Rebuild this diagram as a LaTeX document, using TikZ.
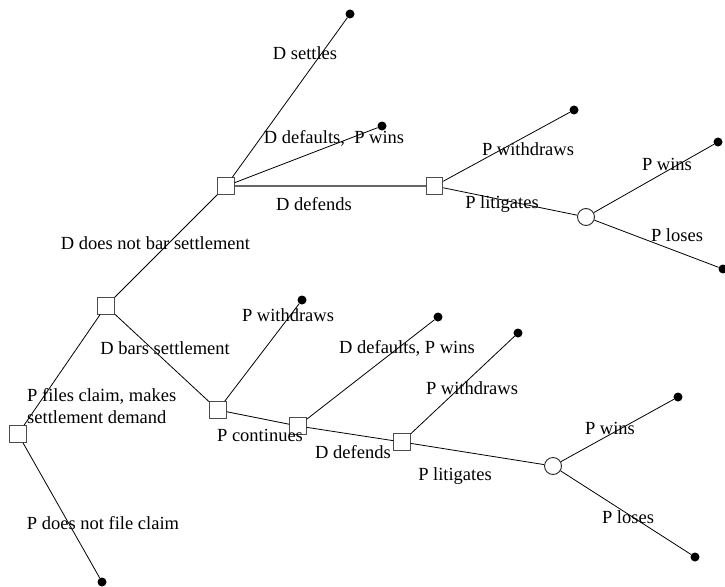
\documentclass[tikz,border=0pt]{standalone}
\usepackage{fontspec}
\setmainfont{Liberation Serif}
\begin{document}
\begin{tikzpicture}[x=1pt,y=-1pt,
 dec/.style={draw=black!70, fill=white, minimum size=16.5pt, inner sep=0pt, line width=0.9pt},
 chance/.style={circle, draw=black!85, fill=white, minimum size=17pt, inner sep=0pt, line width=0.9pt},
 term/.style={circle, fill=black, minimum size=9pt, inner sep=0pt},
 lbl/.style={font=\fontsize{18.5}{22}\selectfont, inner sep=0pt},
 edge/.style={line width=0.8pt},
 gedge/.style={line width=1.6pt, draw=black!60}]
\useasboundingbox (0,0) rectangle (725,586);
% decision and chance nodes
\node[dec] (root) at (18,434) {};
\node[dec] (n1) at (106,306) {};
\node[dec] (n2) at (226,186) {};
\node[dec] (n3) at (434.5,186) {};
\node[chance] (c1) at (586,217) {};
\node[dec] (n4) at (218,410) {};
\node[dec] (n5) at (298,426) {};
\node[dec] (n6) at (402,442) {};
\node[chance] (c2) at (553,466) {};
% terminals
\node[term] (t1) at (102,582) {};
\node[term] (t2) at (350,14) {};
\node[term] (t3) at (382,126) {};
\node[term] (t4) at (574,110) {};
\node[term] (t5) at (718,142) {};
\node[term] (t6) at (723,269) {};
\node[term] (t7) at (302,300) {};
\node[term] (t8) at (438,317) {};
\node[term] (t9) at (518,333) {};
\node[term] (t10) at (678,397) {};
\node[term] (t11) at (695,557) {};
% edges
\draw[edge] (root) -- (n1);
\draw[edge] (root) -- (t1);
\draw[edge] (n1) -- (n2);
\draw[edge] (n1) -- (n4);
\draw[edge] (n2) -- (t2);
\draw[edge] (n2) -- (t3);
\draw[gedge] (n2) -- (n3);
\draw[edge] (n3) -- (t4);
\draw[edge] (n3) -- (c1);
\draw[edge] (c1) -- (t5);
\draw[edge] (c1) -- (t6);
\draw[edge] (n4) -- (t7);
\draw[edge] (n4) -- (n5);
\draw[edge] (n5) -- (t8);
\draw[edge] (n5) -- (n6);
\draw[edge] (n6) -- (t9);
\draw[edge] (n6) -- (c2);
\draw[edge] (c2) -- (t10);
\draw[edge] (c2) -- (t11);
% labels
\node[lbl] (l1) at (305,53) {D settles};
\node[lbl] (l2) at (334,138) {D defaults,\ \ P wins};
\node[lbl] (l3) at (314,204) {D defends};
\node[lbl] (l4) at (155.5,243) {D does not bar settlement};
\node[lbl] (l5) at (528,149) {P withdraws};
\node[lbl] (l6) at (502,204) {P litigates};
\node[lbl] (l7) at (667,164) {P wins};
\node[lbl] (l8) at (677,235) {P loses};
\node[lbl] (l9) at (165,348) {D bars settlement};
\node[lbl, align=left, anchor=west] (l10) at (27,406) {P files claim, makes\\settlement demand};
\node[lbl] (l11) at (103,523) {P does not file claim};
\node[lbl] (l12) at (288,315) {P withdraws};
\node[lbl] (l13) at (260,435) {P continues};
\node[lbl] (l14) at (407,348) {D defaults, P wins};
\node[lbl] (l15) at (353,452) {D defends};
\node[lbl] (l16) at (472,388) {P withdraws};
\node[lbl] (l17) at (455,476) {P litigates};
\node[lbl] (l18) at (610,428) {P wins};
\node[lbl] (l19) at (628,517) {P loses};
\end{tikzpicture}
\end{document}
